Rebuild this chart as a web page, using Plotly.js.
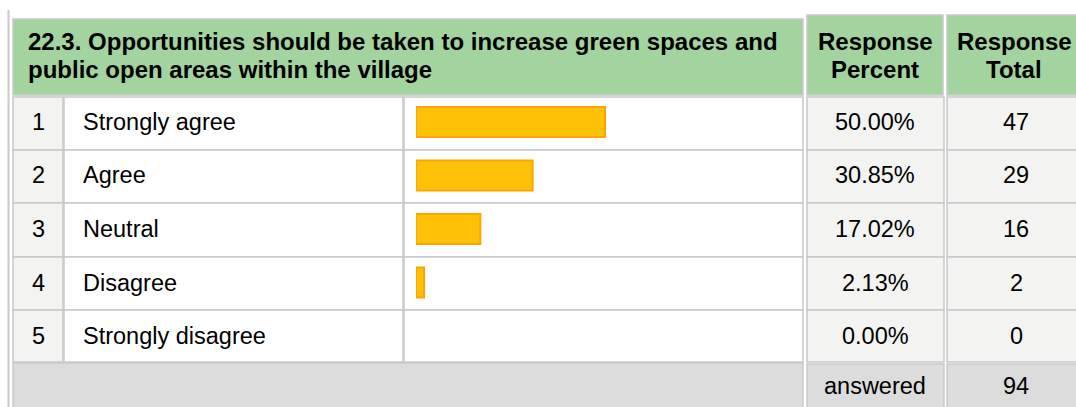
<!DOCTYPE html>
<html>
<head>
<meta charset="utf-8">
<script src="https://cdn.plot.ly/plotly-3.0.1.min.js"></script>
<style>html,body{margin:0;padding:0;background:#fff;}#chart{width:1076px;height:407px;}</style>
</head>
<body>
<div id="chart"></div>
<script>
// ---- data ----
const questionLines = ["22.3. Opportunities should be taken to increase green spaces and", "public open areas within the village"];
const headerPercentLines = ["Response", "Percent"];
const headerTotalLines = ["Response", "Total"];
const rowNumbers = ["1", "2", "3", "4", "5"];
const categories = ["Strongly agree", "Agree", "Neutral", "Disagree", "Strongly disagree"];
const percents = [50.00, 30.85, 17.02, 2.13, 0.00];
const totals = [47, 29, 16, 2, 0];
const answeredLabel = "answered";
const answeredTotal = 94;

// ---- layout helpers (pixel -> paper) ----
const W = 1076, H = 407;
const px = x => x / W;
const py = y => 1 - y / H;
const FONT = '"Liberation Sans", Arial, sans-serif';
const GRID = '#c9c9c9';
const FS = 23.5;
const FH = 24;

const shapes = [];
function cell(x0, y0, x1, y1, fill) {
  shapes.push({type: 'rect', xref: 'paper', yref: 'paper', x0: px(x0), x1: px(x1), y0: py(y1), y1: py(y0),
    fillcolor: fill, line: {color: GRID, width: 1.5}, layer: 'below'});
}
shapes.push({type: 'line', xref: 'paper', yref: 'paper', x0: px(8.5), x1: px(8.5), y0: py(407), y1: py(10),
  line: {color: GRID, width: 2}, layer: 'below'});

cell(13, 19, 803, 95, '#a3d49f');
cell(807, 15, 943, 95, '#a3d49f');
cell(947, 15, 1080, 95, '#a3d49f');

const rowTops = [97, 150, 203, 257, 310, 362];
for (let i = 0; i < categories.length; i++) {
  const t = rowTops[i], b = rowTops[i + 1];
  cell(13, t, 63, b, '#f3f3f2');
  cell(64, t, 403, b, '#ffffff');
  cell(404, t, 803, b, '#ffffff');
  cell(807, t, 944, b, '#f3f3f2');
  cell(947, t, 1080, b, '#f3f3f2');
}
cell(13, 363, 803, 410, '#dcdcdc');
cell(807, 364, 944, 410, '#dcdcdc');
cell(947, 364, 1080, 410, '#dcdcdc');

const idx = categories.map((_, i) => i);
const annotations = [];
const txt = (x, y, yref, text, size, bold, anchor) => annotations.push({
  xref: 'paper', yref: yref, x: px(x), y: y, text: bold ? '<b>' + text + '</b>' : text,
  showarrow: false, xanchor: anchor, yanchor: 'middle', align: anchor === 'center' ? 'center' : 'left',
  font: {family: FONT, size: size, color: '#000'}
});
const headerY = [42, 70];
questionLines.forEach((t, k) => txt(26, py(headerY[k]), 'paper', t, FH, true, 'left'));
headerPercentLines.forEach((t, k) => txt(875, py(headerY[k]), 'paper', t, FH, true, 'center'));
headerTotalLines.forEach((t, k) => txt(1014, py(headerY[k]), 'paper', t, FH, true, 'center'));
for (let i = 0; i < categories.length; i++) {
  txt(38, idx[i], 'y', rowNumbers[i], FS, false, 'center');
  txt(81, idx[i], 'y', categories[i], FS, false, 'left');
  txt(875, idx[i], 'y', percents[i].toFixed(2) + '%', FS, false, 'center');
  txt(1016, idx[i], 'y', String(totals[i]), FS, false, 'center');
}
txt(875, py(386), 'paper', answeredLabel, FS, false, 'center');
txt(1016, py(386), 'paper', String(answeredTotal), FS, false, 'center');

const trace = {
  type: 'bar', orientation: 'h', x: percents, y: idx, width: 0.56,
  marker: {color: '#ffc108', line: {color: '#ffa500', width: percents.map(v => v > 0 ? 2 : 0)}},
  hoverinfo: 'skip'
};

const layout = {
  width: W, height: H, margin: {l: 0, r: 0, t: 0, b: 0},
  paper_bgcolor: '#ffffff', plot_bgcolor: 'rgba(0,0,0,0)',
  showlegend: false,
  xaxis: {domain: [px(416), px(794)], range: [0, 100], visible: false, fixedrange: true},
  yaxis: {domain: [0, 1], range: [5.327, -2.280], visible: false, fixedrange: true},
  shapes: shapes, annotations: annotations
};
Plotly.newPlot('chart', [trace], layout, {staticPlot: true, displayModeBar: false});
</script>
</body>
</html>
